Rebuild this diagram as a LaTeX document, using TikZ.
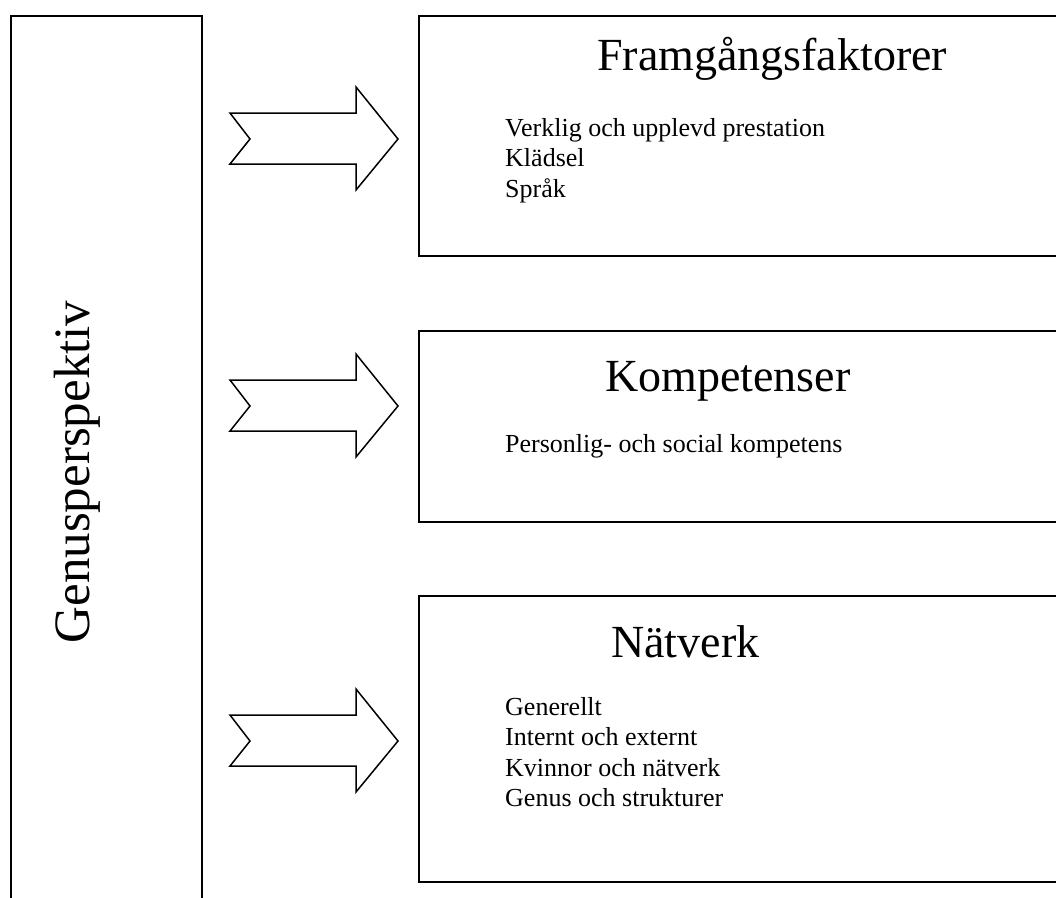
\documentclass[tikz,border=0pt]{standalone}
\usepackage{fontspec}
\setmainfont{Liberation Serif}
\begin{document}
\begin{tikzpicture}[x=1pt,y=-1pt,
  frame/.style={line width=2pt,line cap=rect},
  blockarrow/.style={line width=1.5pt,line join=miter},
  title/.style={font=\fontsize{46}{52}\selectfont,inner sep=0pt,anchor=base west},
  item/.style={font=\fontsize{26}{30}\selectfont,inner sep=0pt,anchor=base west},
  side/.style={font=\fontsize{51}{58}\selectfont,inner sep=0pt,rotate=90,anchor=base}]
\useasboundingbox (0,0) rectangle (1056,897);
% left column
\draw[frame] (11,897) -- (11,15.5) -- (202,15.5) -- (202,897);
\node[side] (gp) at (89,472) {Genusperspektiv};
% boxes
\draw[frame] (1056,16) -- (419,16) -- (419,256) -- (1056,256);
\draw[frame] (1056,331) -- (419,331) -- (419,522) -- (1056,522);
\draw[frame] (1056,596) -- (419,596) -- (419,882) -- (1056,882);
% arrows
\foreach \c in {139,406,741}{
  \draw[blockarrow] (230,\c-26) -- (356,\c-26) -- (356,\c-52) -- (398,\c)
    -- (356,\c+51) -- (356,\c+25) -- (230,\c+25) -- (250,\c) -- cycle;
}
% titles
\node[title] (t1) at (597,70) {Framgångsfaktorer};
\node[title] (t2) at (605,391) {Kompetenser};
\node[title] (t3) at (611,657) {Nätverk};
% items
\node[item] (a1) at (505,136) {Verklig och upplevd prestation};
\node[item] (a2) at (505,166.5) {Klädsel};
\node[item] (a3) at (505,197) {Språk};
\node[item] (b1) at (505,452) {Personlig- och social kompetens};
\node[item] (c1) at (505,715) {Generellt};
\node[item] (c2) at (505,745.5) {Internt och externt};
\node[item] (c3) at (505,776) {Kvinnor och nätverk};
\node[item] (c4) at (505,806.5) {Genus och strukturer};
\end{tikzpicture}
\end{document}
